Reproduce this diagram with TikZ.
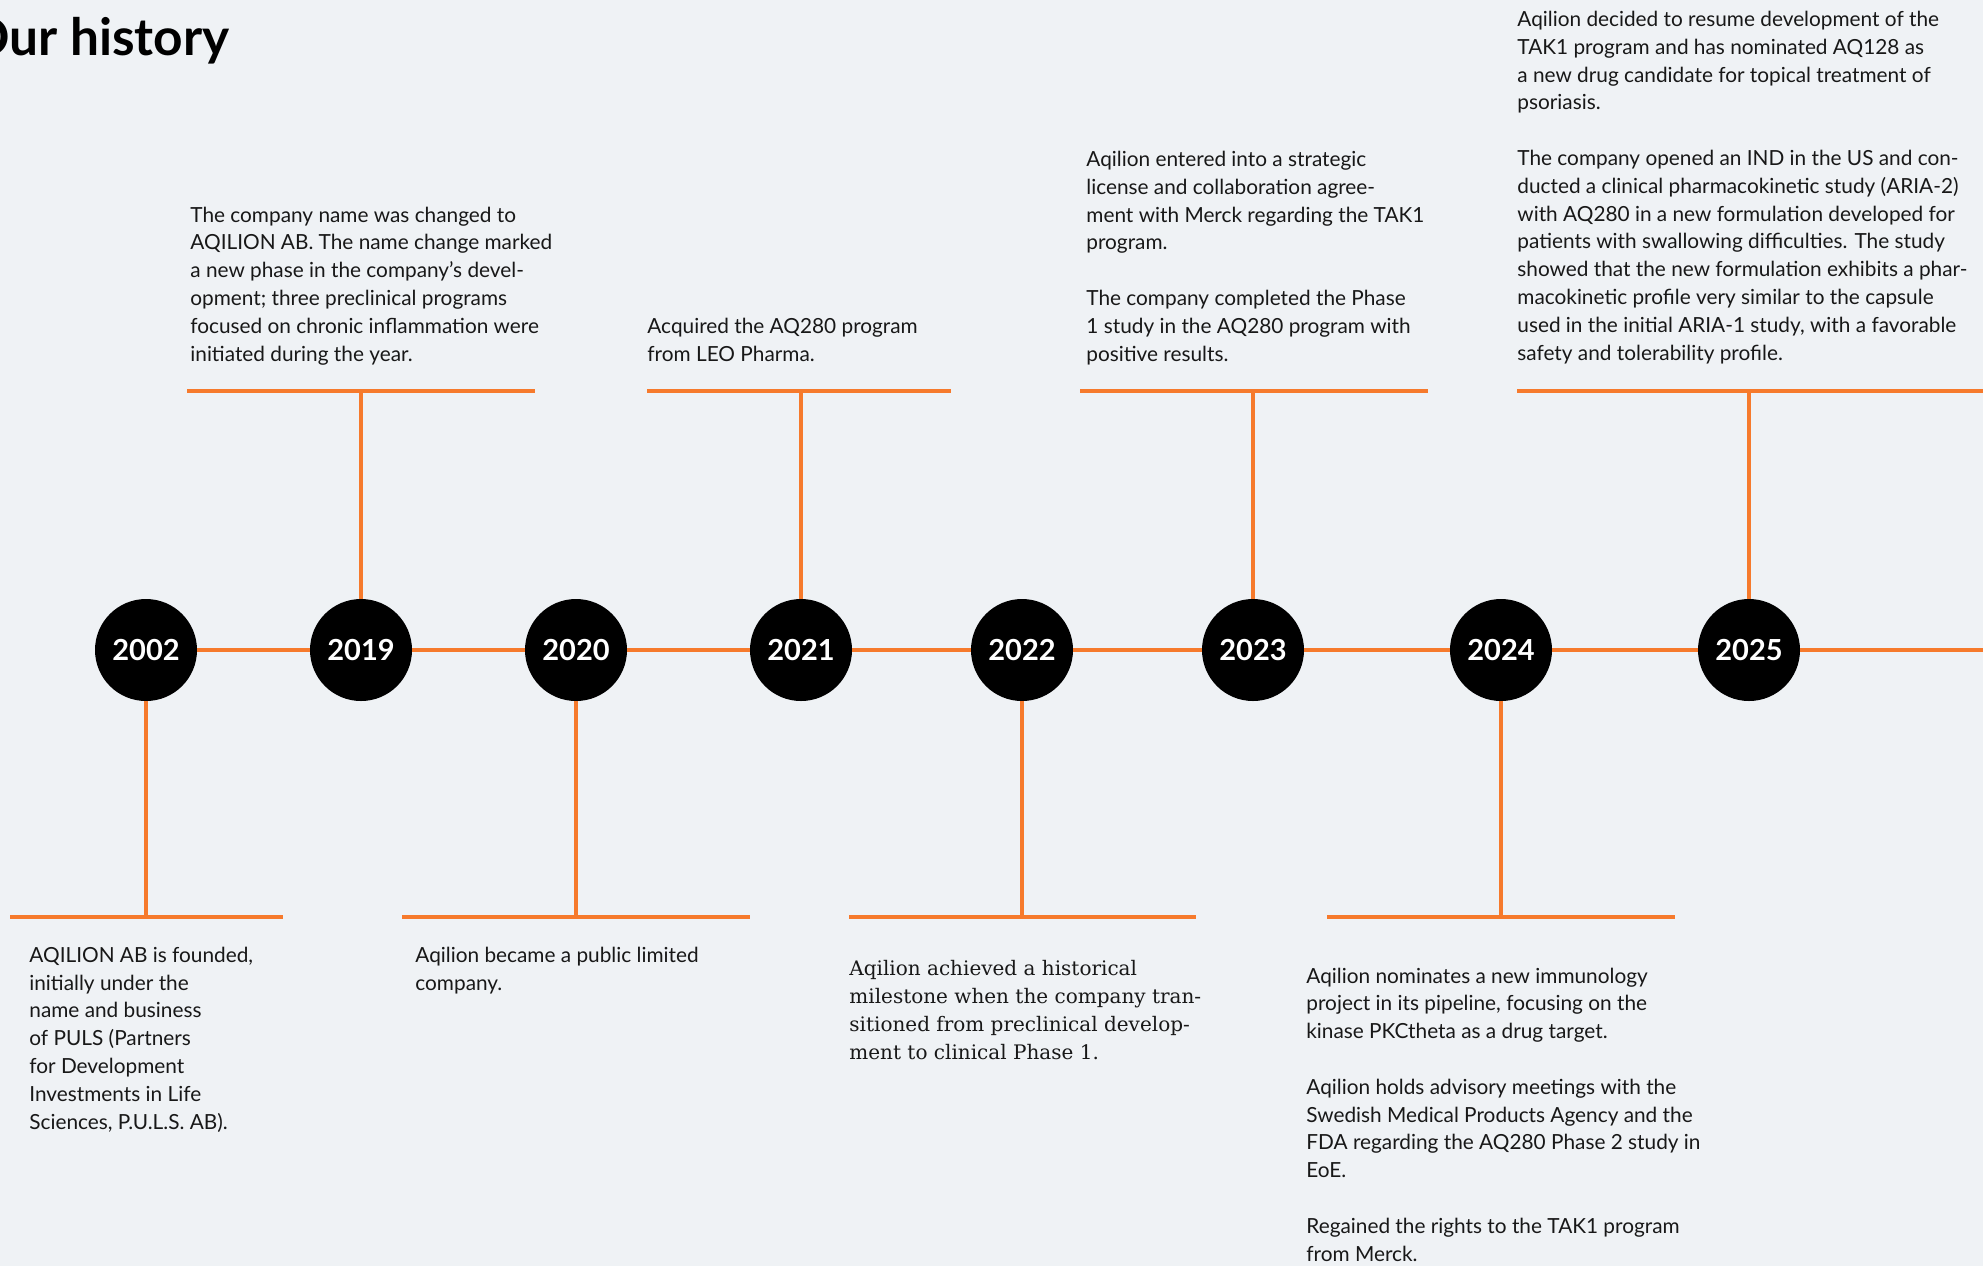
\documentclass[tikz,border=0pt]{standalone}
\usepackage{fontspec}
\setmainfont{Lato}
\newfontfamily\serifface{DejaVu Serif}
\definecolor{bg}{RGB}{239,242,245}
\definecolor{orng}{RGB}{246,122,44}
\definecolor{ink}{RGB}{24,24,24}
\begin{document}
\begin{tikzpicture}[x=0.5pt,y=-0.5pt,
  conn/.style={draw=orng,line width=1.6pt},
  yearnode/.style={circle,fill=black,minimum size=51pt,inner sep=0pt,text=white,font=\fontsize{14.5}{14.5}\selectfont\bfseries},
  desc/.style={anchor=base west,inner sep=0pt,align=left,text=ink,font=\fontsize{10.4}{13.9}\selectfont},
  sdesc/.style={desc,font=\fontsize{10}{13.9}\selectfont\serifface},
  ]
\fill[bg] (0,0) rectangle (1983,1266);
\useasboundingbox (0,0) rectangle (1983,1266);

\node[anchor=base east,inner sep=0pt,font=\fontsize{25.7}{30}\selectfont\bfseries,text=black] (title) at (230,55) {Our history};

% year circles
\node[yearnode] (y2002) at (146,650) {2002};
\node[yearnode] (y2019) at (361,650) {2019};
\node[yearnode] (y2020) at (576,650) {2020};
\node[yearnode] (y2021) at (801,650) {2021};
\node[yearnode] (y2022) at (1022,650) {2022};
\node[yearnode] (y2023) at (1253,650) {2023};
\node[yearnode] (y2024) at (1501,650) {2024};
\node[yearnode] (y2025) at (1749,650) {2025};
\coordinate (tend) at (1983,650);

\draw[conn] (y2002) -- (y2019) -- (y2020) -- (y2021) -- (y2022) -- (y2023) -- (y2024) -- (y2025) -- (tend);

% stem ends and bars
\coordinate (s2002) at (146,917); \coordinate (bl2002) at (10,917);   \coordinate (br2002) at (283,917);
\coordinate (s2019) at (361,391); \coordinate (bl2019) at (187,391);  \coordinate (br2019) at (535,391);
\coordinate (s2020) at (576,917); \coordinate (bl2020) at (402,917);  \coordinate (br2020) at (750,917);
\coordinate (s2021) at (801,391); \coordinate (bl2021) at (647,391);  \coordinate (br2021) at (951,391);
\coordinate (s2022) at (1022,917);\coordinate (bl2022) at (849,917);  \coordinate (br2022) at (1196,917);
\coordinate (s2023) at (1253,391);\coordinate (bl2023) at (1080,391); \coordinate (br2023) at (1428,391);
\coordinate (s2024) at (1501,917);\coordinate (bl2024) at (1327,917); \coordinate (br2024) at (1675,917);
\coordinate (s2025) at (1749,391);\coordinate (bl2025) at (1517,391); \coordinate (br2025) at (1983,391);

\draw[conn] (y2002.south) -- (s2002);
\draw[conn] (y2019.north) -- (s2019);
\draw[conn] (y2020.south) -- (s2020);
\draw[conn] (y2021.north) -- (s2021);
\draw[conn] (y2022.south) -- (s2022);
\draw[conn] (y2023.north) -- (s2023);
\draw[conn] (y2024.south) -- (s2024);
\draw[conn] (y2025.north) -- (s2025);

\draw[conn] (bl2002) -- (br2002);
\draw[conn] (bl2019) -- (br2019);
\draw[conn] (bl2020) -- (br2020);
\draw[conn] (bl2021) -- (br2021);
\draw[conn] (bl2022) -- (br2022);
\draw[conn] (bl2023) -- (br2023);
\draw[conn] (bl2024) -- (br2024);
\draw[conn] (bl2025) -- (br2025);

% texts (anchored at the baseline of their last line)
\node[desc] (t2002) at (29,1129) {AQILION AB is founded,\\ initially under the\\ name and business\\ of PULS (Partners\\ for Development\\ Investments in Life\\ Sciences, P.U.L.S. AB).};

\node[desc] (t2019) at (190,361) {The company name was changed to\\ AQILION AB. The name change marked\\ a new phase in the company’s devel-\\ opment; three preclinical programs\\ focused on chronic inflammation were\\ initiated during the year.};

\node[desc] (t2020) at (415,990) {Aqilion became a public limited\\ company.};

\node[desc] (t2021) at (647,361) {Acquired the AQ280 program\\ from LEO Pharma.};

\node[sdesc] (t2022) at (849,1059) {Aqilion achieved a historical\\ milestone when the company tran-\\ sitioned from preclinical develop-\\ ment to clinical Phase 1.};

\node[desc] (t2023) at (1086,361) {Aqilion entered into a strategic\\ license and collaboration agree-\\ ment with Merck regarding the TAK1\\ program.\\[13.9pt] The company completed the Phase\\ 1 study in the AQ280 program with\\ positive results.};

\node[desc] (t2024) at (1306,1261) {Aqilion nominates a new immunology\\ project in its pipeline, focusing on the\\ kinase PKCtheta as a drug target.\\[13.9pt] Aqilion holds advisory meetings with the\\ Swedish Medical Products Agency and the\\ FDA regarding the AQ280 Phase 2 study in\\ EoE.\\[13.9pt] Regained the rights to the TAK1 program\\ from Merck.};

\node[desc] (t2025) at (1517,360) {Aqilion decided to resume development of the\\ TAK1 program and has nominated AQ128 as\\ a new drug candidate for topical treatment of\\ psoriasis.\\[13.9pt] The company opened an IND in the US and con-\\ ducted a clinical pharmacokinetic study (ARIA-2)\\ with AQ280 in a new formulation developed for\\ patients with swallowing difficulties. The study\\ showed that the new formulation exhibits a phar-\\ macokinetic profile very similar to the capsule\\ used in the initial ARIA-1 study, with a favorable\\ safety and tolerability profile.};
\end{tikzpicture}
\end{document}
